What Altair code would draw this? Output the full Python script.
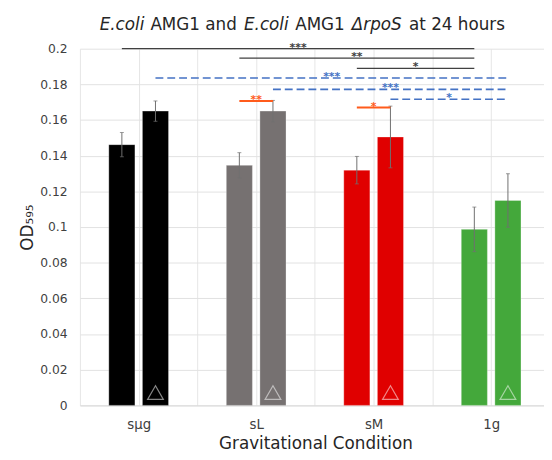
import altair as alt
import pandas as pd

# ---------------- data ----------------
categories = ["sμg", "sL", "sM", "1g"]
strains = ["AMG1", "ΔrpoS"]
amg1_mean = [0.1462, 0.1346, 0.1319, 0.0987]
amg1_err = [0.0068, 0.0071, 0.0077, 0.0125]
rpos_mean = [0.1650, 0.1650, 0.1505, 0.1149]
rpos_err = [0.0057, 0.0060, 0.0173, 0.0150]
y_ticks = [0, 0.02, 0.04, 0.06, 0.08, 0.1, 0.12, 0.14, 0.16, 0.18, 0.2]

# significance brackets
sig_from_cat = ["sμg", "sL", "sM", "sμg", "sL", "sM", "sL", "sM"]
sig_from_strain = ["AMG1", "AMG1", "AMG1", "ΔrpoS", "ΔrpoS", "ΔrpoS", "AMG1", "AMG1"]
sig_to_cat = ["1g", "1g", "1g", "1g", "1g", "1g", "sL", "sM"]
sig_to_strain = ["AMG1", "AMG1", "AMG1", "ΔrpoS", "ΔrpoS", "ΔrpoS", "ΔrpoS", "ΔrpoS"]
sig_level = [0.2000, 0.1947, 0.1890, 0.1836, 0.1772, 0.1717, 0.1707, 0.1670]
sig_stars = ["***", "**", "*", "***", "***", "*", "**", "*"]
sig_group = ["AMG1", "AMG1", "AMG1", "ΔrpoS", "ΔrpoS", "ΔrpoS", "pair", "pair"]

# title pieces (text, italic)
title_text = ["E.coli", "AMG1 and", "E.coli", "AMG1", "ΔrpoS", "at 24 hours"]
title_italic = [True, False, True, False, True, False]

# ---------------- styling ----------------
bar_colors = ["#000000", "#767171", "#E00000", "#44A83B"]
strain_offset = {"AMG1": -0.143, "ΔrpoS": 0.143}
title_px = [20, 71.5, 166.5, 218.5, 276, 334]
FONT = "DejaVu Sans"


def xpos(cat, strain):
    return categories.index(cat) + strain_offset[strain]


rows = []
for i, c in enumerate(categories):
    for s, m, e in ((strains[0], amg1_mean[i], amg1_err[i]), (strains[1], rpos_mean[i], rpos_err[i])):
        rows.append({"cat": c, "strain": s, "xpos": xpos(c, s), "mean": m,
                     "lo": m - e, "hi": m + e})
bars_df = pd.DataFrame(rows)

sig_rows = []
for a, b, c, d, lv, st, g in zip(sig_from_cat, sig_from_strain, sig_to_cat, sig_to_strain,
                                 sig_level, sig_stars, sig_group):
    x1, x2 = xpos(a, b), xpos(c, d)
    sig_rows.append({"x1": x1, "x2": x2, "xm": (x1 + x2) / 2, "level": lv, "stars": st, "group": g})
sig_df = pd.DataFrame(sig_rows)

title_df = pd.DataFrame({"text": title_text, "italic": title_italic, "px": title_px})

xscale = alt.Scale(domain=[-0.5, 3.45], nice=False, zero=False, padding=0)
yscale = alt.Scale(domain=[0, 0.2], nice=False, padding=0)

label_expr = " : ".join(
    [f"datum.value == {i} ? '{c}'" for i, c in enumerate(categories)]) + " : ''"

XT = "Gravitational Condition"
YT = "OD₅₉₅"

xaxis = alt.Axis(values=[-0.5, 0, 0.5, 1, 1.5, 2, 2.5, 3], labelExpr=label_expr,
                 grid=True, gridColor="#e6e6e6", ticks=False, domainColor="#d9d9d9",
                 labelFontSize=13.5, labelColor="#404040", labelPadding=12,
                 titleFontSize=17, titleFontWeight="normal",
                 titleColor="#262626", titleX=239, titleY=44, titleBaseline="alphabetic",
                 titleAlign="center", labelFlush=False, labelOverlap=False)
yaxis = alt.Axis(values=y_ticks, format=".2~f", tickCount=11,
                 grid=True, gridColor="#e2e2e2", ticks=False, domain=False,
                 labelFontSize=12.5, labelColor="#404040", labelPadding=13,
                 labelOverlap=False, labelFlush=False,
                 titleFontSize=17, titleFontWeight="normal", titleColor="#262626",
                 titleX=-53, titleY=181, titleAngle=-90, titleAlign="center",
                 titleBaseline="middle")


def X(field):
    return alt.X(field, scale=xscale, axis=xaxis, title=XT)


def Y(field):
    return alt.Y(field, scale=yscale, axis=yaxis, title=YT)


bars = alt.Chart(bars_df).mark_bar(size=26.5, stroke="white", strokeWidth=0.6,
                                   strokeOpacity=0.5).encode(
    x=X("xpos:Q"),
    y=Y("mean:Q"),
    color=alt.Color("cat:N", scale=alt.Scale(domain=categories, range=bar_colors), legend=None),
)

err = alt.Chart(bars_df).mark_rule(color="#707070", strokeWidth=1).encode(
    x=X("xpos:Q"), y=Y("lo:Q"), y2="hi:Q",
)
cap_hi = alt.Chart(bars_df).mark_tick(color="#707070", orient="horizontal", size=4,
                                      thickness=1).encode(x=X("xpos:Q"), y=Y("hi:Q"))
cap_lo = alt.Chart(bars_df).mark_tick(color="#707070", orient="horizontal", size=4,
                                      thickness=1).encode(x=X("xpos:Q"), y=Y("lo:Q"))

tri = alt.Chart(bars_df).transform_filter(alt.datum.strain == "ΔrpoS").mark_point(
    shape="triangle-up", size=256, filled=False, stroke="white", strokeOpacity=0.75,
    strokeWidth=1.2).encode(x=X("xpos:Q"), y=alt.value(349))


def sig_layer(group, color, width, dash=None):
    kw = dict(color=color, strokeWidth=width)
    if dash:
        kw["strokeDash"] = dash
    line = alt.Chart(sig_df).transform_filter(alt.datum.group == group).mark_rule(**kw).encode(
        x=X("x1:Q"), x2="x2:Q", y=Y("level:Q"),
    )
    txt = alt.Chart(sig_df).transform_filter(alt.datum.group == group).mark_text(
        color=color, fontSize=11, fontWeight="bold", baseline="alphabetic", dy=2).encode(
        x=X("xm:Q"), y=Y("level:Q"), text="stars:N",
    )
    return line + txt


sig_black = sig_layer("AMG1", "#404040", 1.3)
sig_blue = sig_layer("ΔrpoS", "#4472C4", 1.6, [8, 4])
sig_orange = sig_layer("pair", "#FF5B1B", 2)

title_it = alt.Chart(title_df).transform_filter(alt.datum.italic).mark_text(
    fontSize=17, fontStyle="italic", align="left", baseline="middle", color="#262626").encode(
    x=alt.X("px:Q", scale=None, axis=None), y=alt.value(-24), text="text:N")
title_rm = alt.Chart(title_df).transform_filter(~alt.datum.italic).mark_text(
    fontSize=17, align="left", baseline="middle", color="#262626").encode(
    x=alt.X("px:Q", scale=None, axis=None), y=alt.value(-24), text="text:N")

chart = alt.layer(bars, err, cap_hi, cap_lo, tri, sig_black, sig_blue, sig_orange,
                  title_it, title_rm).properties(
    width=471, height=362,
    autosize="none",
    padding={"left": 73, "top": 38, "right": 0, "bottom": 44},
).configure(font=FONT).configure_view(stroke=None)

chart.save("out.html", embed_options={"renderer": "svg", "actions": False})
